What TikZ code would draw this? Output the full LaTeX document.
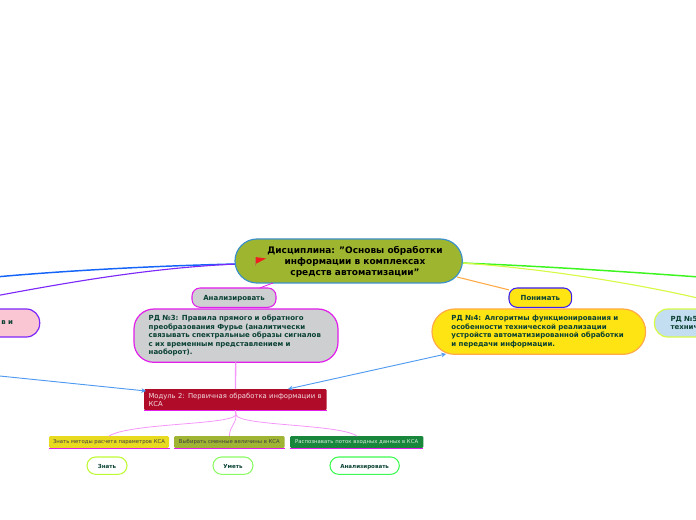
\documentclass[tikz,border=0pt]{standalone}
\usepackage{fontspec}
\setmainfont{DejaVu Sans}
\usetikzlibrary{arrows.meta,calc}
\definecolor{rootfill}{RGB}{158,182,47}
\definecolor{rootline}{RGB}{60,145,200}
\definecolor{textgreen}{RGB}{10,65,50}
\definecolor{magline}{RGB}{225,30,235}
\definecolor{greyfill}{RGB}{205,207,209}
\definecolor{yellowfill}{RGB}{255,228,20}
\definecolor{pinkfill}{RGB}{250,198,212}
\definecolor{bluefill}{RGB}{195,222,240}
\definecolor{crimson}{RGB}{176,12,42}
\definecolor{oliveitem}{RGB}{158,180,50}
\definecolor{greenitem}{RGB}{24,135,60}
\definecolor{yellowitem}{RGB}{232,218,30}
\definecolor{linkblue}{RGB}{80,155,240}
\definecolor{pinkline}{RGB}{245,150,250}
\definecolor{blueline}{RGB}{20,100,250}
\definecolor{greenline}{RGB}{60,245,30}
\definecolor{purpleline}{RGB}{125,40,250}
\definecolor{limeline}{RGB}{215,250,70}
\definecolor{orangeline}{RGB}{255,170,70}
\definecolor{indigoline}{RGB}{60,30,240}
\definecolor{limeverb}{RGB}{190,250,50}
\definecolor{mintverb}{RGB}{140,250,100}
\definecolor{greenverb}{RGB}{60,250,80}
\tikzset{every picture/.style={line width=0.75pt}}
\tikzset{
  every node/.style={outer sep=0pt},
  topic/.style={draw,line width=0.9pt,text=textgreen,font=\bfseries\fontsize{5.25}{6.4}\selectfont,align=left,anchor=north west,inner ysep=0pt},
  verb/.style={draw,rounded corners=6pt,line width=0.8pt,text=textgreen,font=\bfseries\fontsize{5.25}{6}\selectfont,inner sep=0pt,anchor=north west,text height=4.8pt,text depth=0pt},
  smallverb/.style={verb,fill=white,rounded corners=6.5pt,font=\bfseries\fontsize{4.15}{5}\selectfont,text height=3.8pt},
  item/.style={rounded corners=1pt,font=\fontsize{4}{5}\selectfont,inner sep=0pt,anchor=north west},
  link/.style={linkblue,line width=0.7pt,-{Stealth[length=3.5pt,width=3.5pt]}},
  branch/.style={pinkline,line width=0.6pt},
  underl/.style={magline,line width=0.9pt}
}

\begin{document}
\begin{tikzpicture}[x=0.75pt,y=0.75pt,yscale=-1,xscale=1]
\useasboundingbox (0,0) rectangle (696,520);
\clip (0,0) rectangle (696,520);

% free ends
\coordinate (leftA) at (-10,277.5);
\coordinate (leftB) at (-10,297);
\coordinate (rightA) at (706,277.5);
\coordinate (rightB) at (706,300);
\coordinate (leftC) at (-10,375);
\coordinate (rootW) at (236,264);
\coordinate (rootE) at (461,263);
\coordinate (rootS) at (273,283);
\coordinate (rootR) at (457,277);
\coordinate (modL) at (288,389);
\coordinate (modW) at (146,391);
\coordinate (rd4L) at (446,354);
\coordinate (modB) at (236,415);

% lines from root, under the nodes
\draw [blueline,line width=1.1pt] (rootW) .. controls (150,266) and (60,271) .. (leftA);
\draw [purpleline,line width=0.85pt] (rootW) .. controls (150,268) and (70,282) .. (leftB);
\draw [greenline,line width=1.1pt] (rootE) .. controls (540,266) and (630,272) .. (rightA);
\draw [limeline,line width=0.85pt] (rootE) .. controls (540,268) and (640,284) .. (rightB);

% Root
\node [draw=rootline,fill=rootfill,line width=0.9pt,rounded corners=16.5pt,minimum width=170.5pt,minimum height=33pt,anchor=north west,inner sep=0pt] (root) at (235,239) {};
\node [font=\bfseries\fontsize{6.75}{8.25}\selectfont,align=center,text=black,inner sep=0pt] (roottext) at (355,261.5) {Дисциплина: "Основы обработки\\информации в комплексах\\средств автоматизации"};
%flag
\fill [color={rgb, 255:red, 240; green, 30; blue, 30 }] (255,257) -- (266,258.5) -- (255.5,264) -- cycle;
\draw [color={rgb, 255:red, 170; green, 130; blue, 70 },line width=0.6pt] (255,257) -- (255,266);

% Verbs
\node [verb,draw=magline,fill=greyfill,minimum width=63pt,minimum height=14.5pt] (an) at (192,288) {Анализировать};
\node [verb,draw=indigoline,fill=yellowfill,minimum width=47pt,minimum height=14.5pt] (pon) at (509,288) {Понимать};
\draw [magline,line width=0.6pt] (rootS) -- (an);
\draw [orangeline,line width=0.8pt] (rootR) -- (pon);

% RD nodes
\node [topic,draw=magline,fill=greyfill,rounded corners=15pt,inner xsep=11pt,text width=131pt,minimum height=40pt] (rd3) at (134,309) {РД №3: Правила прямого и обратного\\преобразования Фурье (аналитически\\связывать спектральные образы сигналов\\с их временным представлением и\\наоборот).};
\node [topic,draw=orangeline,fill=yellowfill,rounded corners=17pt,inner xsep=14.6pt,text width=131pt,minimum height=34pt] (rd4) at (432,309) {РД №4: Алгоритмы функционирования и\\особенности технической реализации\\устройств автоматизированной обработки\\и передачи информации.};
\node [topic,draw=purpleline,fill=pinkfill,rounded corners=10pt,inner xsep=20pt,align=right,text width=40pt,minimum height=21pt] (rd2) at (-67,309) {в и\\[6.4pt]};
\node [topic,draw=limeline,fill=bluefill,rounded corners=10pt,inner xsep=12pt,text width=60pt,minimum height=21pt] (rd5) at (654.5,309) {РД №5\\технич};

% Module
\node [fill=crimson,text=white!85!crimson,rounded corners=1pt,font=\fontsize{5.12}{6.1}\selectfont,align=left,inner xsep=3.4pt,text width=130.2pt,minimum height=16pt,anchor=north west,inner ysep=0pt] (mod) at (144,389) {Модуль 2: Первичная обработка информации в\\КСА};
\draw [underl,line width=0.8pt] (mod.south west) -- (mod.south east);
\draw [branch,line width=1pt] (rd3) -- (mod);

% Links
\draw [link] (leftC) -- (modW);
\draw [link,{Stealth[length=3.5pt,width=3.5pt]}-{Stealth[length=3.5pt,width=3.5pt]}] (modL) -- (rd4L);

% Items
\node [item,fill=yellowitem,text=black!75,minimum width=90pt,minimum height=9pt] (i1) at (49,436) {Знать методы расчета параметров КСА};
\node [item,fill=oliveitem,text=black!75,minimum width=83pt,minimum height=9pt] (i2) at (174,436) {Выбирать сменные величины в КСА};
\node [item,fill=greenitem,text=white!85!greenitem,minimum width=100pt,minimum height=9pt] (i3) at (290,436) {Распознавать поток входных данных в КСА};
\draw [underl] (48.5,448.5) -- (169.5,448.5);
\draw [underl] (173.5,448.5) -- (285,448.5);
\draw [underl] (289.5,448.5) -- (423,448.5);
\draw [branch,line width=1pt] (mod.south) -- (modB);
\draw [branch] (modB) .. controls (230,425) and (130,423) .. (i1.north);
\draw [branch] (modB) .. controls (236,425) and (230,425) .. (i2.north);
\draw [branch] (modB) .. controls (240,426) and (340,424) .. (i3.north);

% small verbs
\node [smallverb,draw=limeverb,minimum width=30pt,minimum height=13pt] (v1) at (87,457) {Знать};
\node [smallverb,draw=mintverb,minimum width=30pt,minimum height=13pt] (v2) at (213,457) {Уметь};
\node [smallverb,draw=greenverb,minimum width=52pt,minimum height=13pt] (v3) at (330,457) {Анализировать};

\end{tikzpicture}
\end{document}
